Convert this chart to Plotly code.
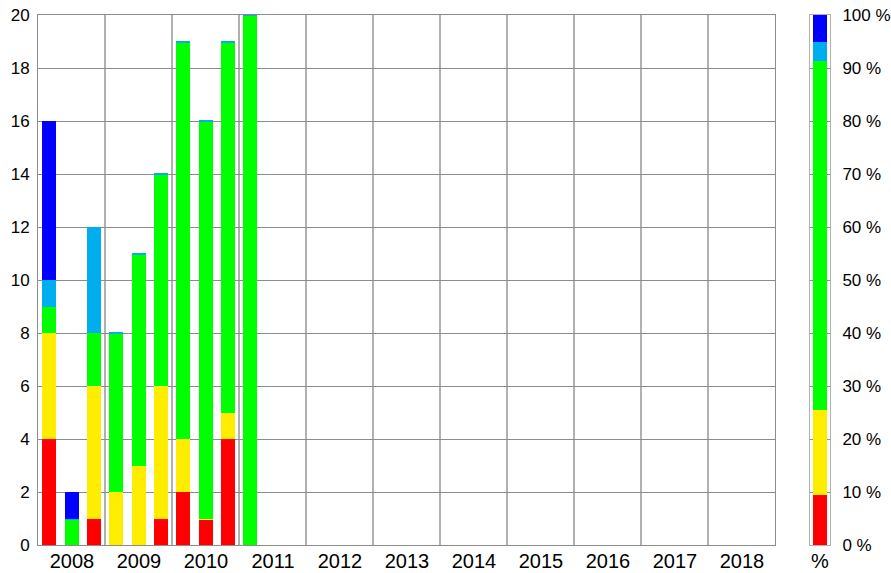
import plotly.graph_objects as go

# Periods: three per year (thirds), 2008 T1 .. 2011 T1
years = [2008, 2008, 2008, 2009, 2009, 2009, 2010, 2010, 2010, 2011]
thirds = [1, 2, 3, 1, 2, 3, 1, 2, 3, 1]

red =       [4,    None, 1,    0,    0,    1,    2,    1,    4,    None]
yellow =    [4,    0,    5,    2,    3,    5,    2,    0,    1,    0]
green =     [1,    1,    2,    6,    8,    8,    15,   15,   14,   20]
lightblue = [1,    0,    4,    0,    0,    0,    0,    0,    0,    0]
blue =      [6,    1,    None, None, None, None, None, None, None, None]

series_names = ["red", "yellow", "green", "lightblue", "blue"]
series_values = [red, yellow, green, lightblue, blue]
series_colors = ["#ff0000", "#ffed00", "#00ff00", "#00aeef", "#0000ff"]

year_ticks = list(range(2008, 2019))
y_ticks = list(range(0, 21, 2))
pct_ticks = list(range(0, 101, 10))

FONT = "Liberation Sans"
GRID_H = "#8c8c8c"
GRID_V = "#b0b0b0"

xpos = [y + (t - 0.5) / 3 for y, t in zip(years, thirds)]

totals = [sum(v for v in s if v is not None) for s in series_values]
grand = sum(totals)

fig = go.Figure()
for name, vals, col in zip(series_names, series_values, series_colors):
    widths = [2 if v == 0 else 0 for v in vals]
    fig.add_trace(go.Bar(
        x=xpos, y=vals, name=name, width=0.209,
        marker=dict(color=col, line=dict(color=col, width=widths)),
        xaxis="x", yaxis="y", showlegend=False,
    ))

for name, tot, col in zip(series_names, totals, series_colors):
    fig.add_trace(go.Bar(
        x=["%"], y=[100 * tot / grand], name=name, width=0.7,
        marker=dict(color=col, line=dict(width=0)),
        xaxis="x2", yaxis="y2", showlegend=False,
    ))

split = (775 - 38) / (830 - 38)
fig.update_layout(
    width=891, height=573,
    margin=dict(l=38, r=61, t=15, b=28),
    barmode="stack", bargap=0,
    plot_bgcolor="white", paper_bgcolor="white",
    font=dict(family=FONT, color="black"),
    xaxis=dict(
        domain=[0, split], range=[2008, 2019], automargin=False,
        tickmode="array", tickvals=year_ticks, ticktext=[str(y) for y in year_ticks],
        ticklabelshift=34, ticklabelstandoff=-2,
        tickfont=dict(size=20),
        showgrid=True, gridcolor=GRID_V, gridwidth=1.5,
        showline=True, linecolor=GRID_H, linewidth=1, mirror=True,
        ticks="", zeroline=False,
    ),
    yaxis=dict(
        range=[0, 20], tickmode="array", tickvals=y_ticks, automargin=False,
        tickfont=dict(size=17), ticklabelstandoff=4,
        showgrid=True, gridcolor=GRID_H, gridwidth=1,
        showline=True, linecolor=GRID_H, linewidth=1, mirror=True,
        ticks="", zeroline=False,
    ),
    xaxis2=dict(
        domain=[(810 - 38) / (830 - 38), 1], anchor="y2", automargin=False,
        range=[-0.5, 0.5], tickfont=dict(size=20), ticklabelstandoff=-2,
        showline=True, linecolor=GRID_V, linewidth=1, mirror=True,
        ticks="", showgrid=False,
    ),
    yaxis2=dict(
        anchor="x2", side="right", range=[0, 100], automargin=False,
        tickmode="array", tickvals=pct_ticks, ticktext=[f"{v} %" for v in pct_ticks],
        tickfont=dict(size=17), ticklabelstandoff=8,
        showgrid=True, gridcolor=GRID_H, gridwidth=1,
        showline=True, linecolor=GRID_V, linewidth=1, mirror=True,
        ticks="", zeroline=False,
    ),
)

fig.write_html(
    "out.html",
    config={"displayModeBar": False},
    post_script="document.body.style.margin='0';document.body.style.overflow='hidden';",
)
